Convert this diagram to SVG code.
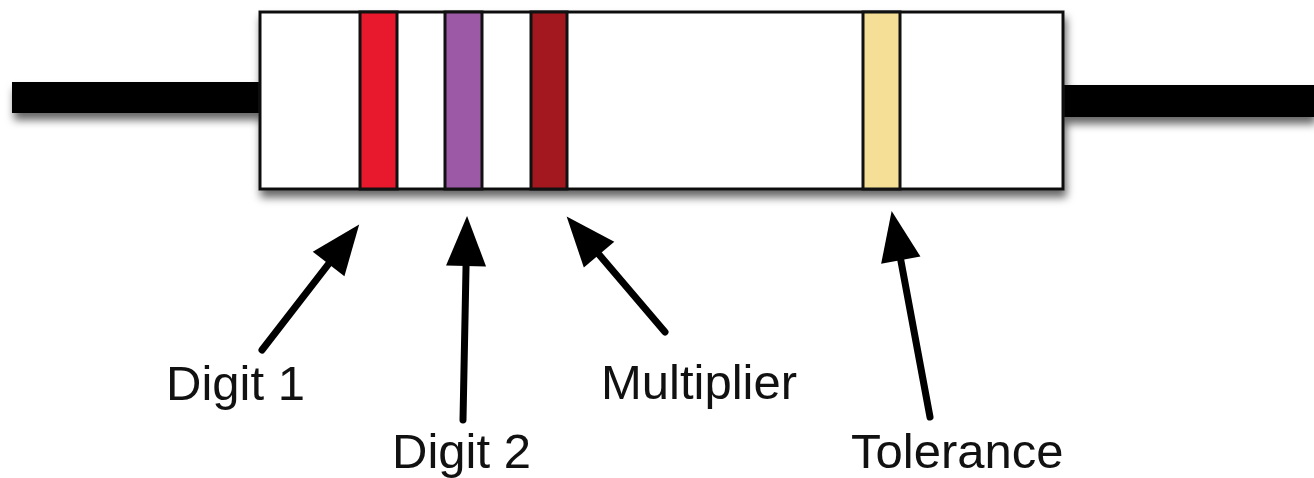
<svg xmlns="http://www.w3.org/2000/svg" width="1314" height="478" viewBox="0 0 1314 478">
  <defs>
    <filter id="shadow" x="-5%" y="-20%" width="110%" height="160%">
      <feDropShadow dx="2" dy="7" stdDeviation="4" flood-color="#000" flood-opacity="0.6"/>
    </filter>
    <marker id="head" markerUnits="userSpaceOnUse" markerWidth="52" markerHeight="42" viewBox="0 -21 50 42" refX="18" refY="0" orient="auto">
      <path d="M0,-20 L50,0 L0,20 Z" fill="#000"/>
    </marker>
  </defs>
  <style>
    .lead { fill: #000; }
    .body { fill: #fff; stroke: #111; stroke-width: 3; }
    .band { stroke: #111; stroke-width: 3; }
    .arrow { stroke: #000; stroke-width: 7; stroke-linecap: round; fill: none; marker-end: url(#head); }
    .label { font-family: "Liberation Sans", Arial, sans-serif; font-size: 49px; fill: #111; }
  </style>
  <rect width="1314" height="478" fill="#fff"/>

  <!-- resistor: leads, body and colour bands -->
  <g id="resistor">
    <g filter="url(#shadow)">
      <rect class="lead" x="12" y="82" width="250" height="31"/>
      <rect class="lead" x="1061" y="85" width="253" height="32"/>
      <rect class="body" x="260" y="12" width="803" height="177"/>
    </g>
    <rect id="band-digit1" class="band" x="360" y="12" width="37" height="177" fill="#e8192c"/>
    <rect id="band-digit2" class="band" x="445" y="12" width="37" height="177" fill="#9c5aa6"/>
    <rect id="band-multiplier" class="band" x="531" y="12" width="36" height="177" fill="#a3181f"/>
    <rect id="band-tolerance" class="band" x="863" y="12" width="37" height="177" fill="#f5df97"/>
  </g>

  <!-- pointer arrows -->
  <g id="connectors">
    <line class="arrow" x1="262" y1="350" x2="339.6" y2="249.7"/>
    <line class="arrow" x1="463" y1="420" x2="466.4" y2="248"/>
    <line class="arrow" x1="665" y1="332" x2="587.4" y2="240.9"/>
    <line class="arrow" x1="930" y1="417" x2="897.5" y2="242.5"/>
  </g>

  <g id="label-digit1"><text class="label" x="166" y="400">Digit 1</text></g>
  <g id="label-digit2"><text class="label" x="392" y="468">Digit 2</text></g>
  <g id="label-multiplier"><text class="label" x="601" y="399">Multiplier</text></g>
  <g id="label-tolerance"><text class="label" x="851" y="468">Tolerance</text></g>
</svg>
